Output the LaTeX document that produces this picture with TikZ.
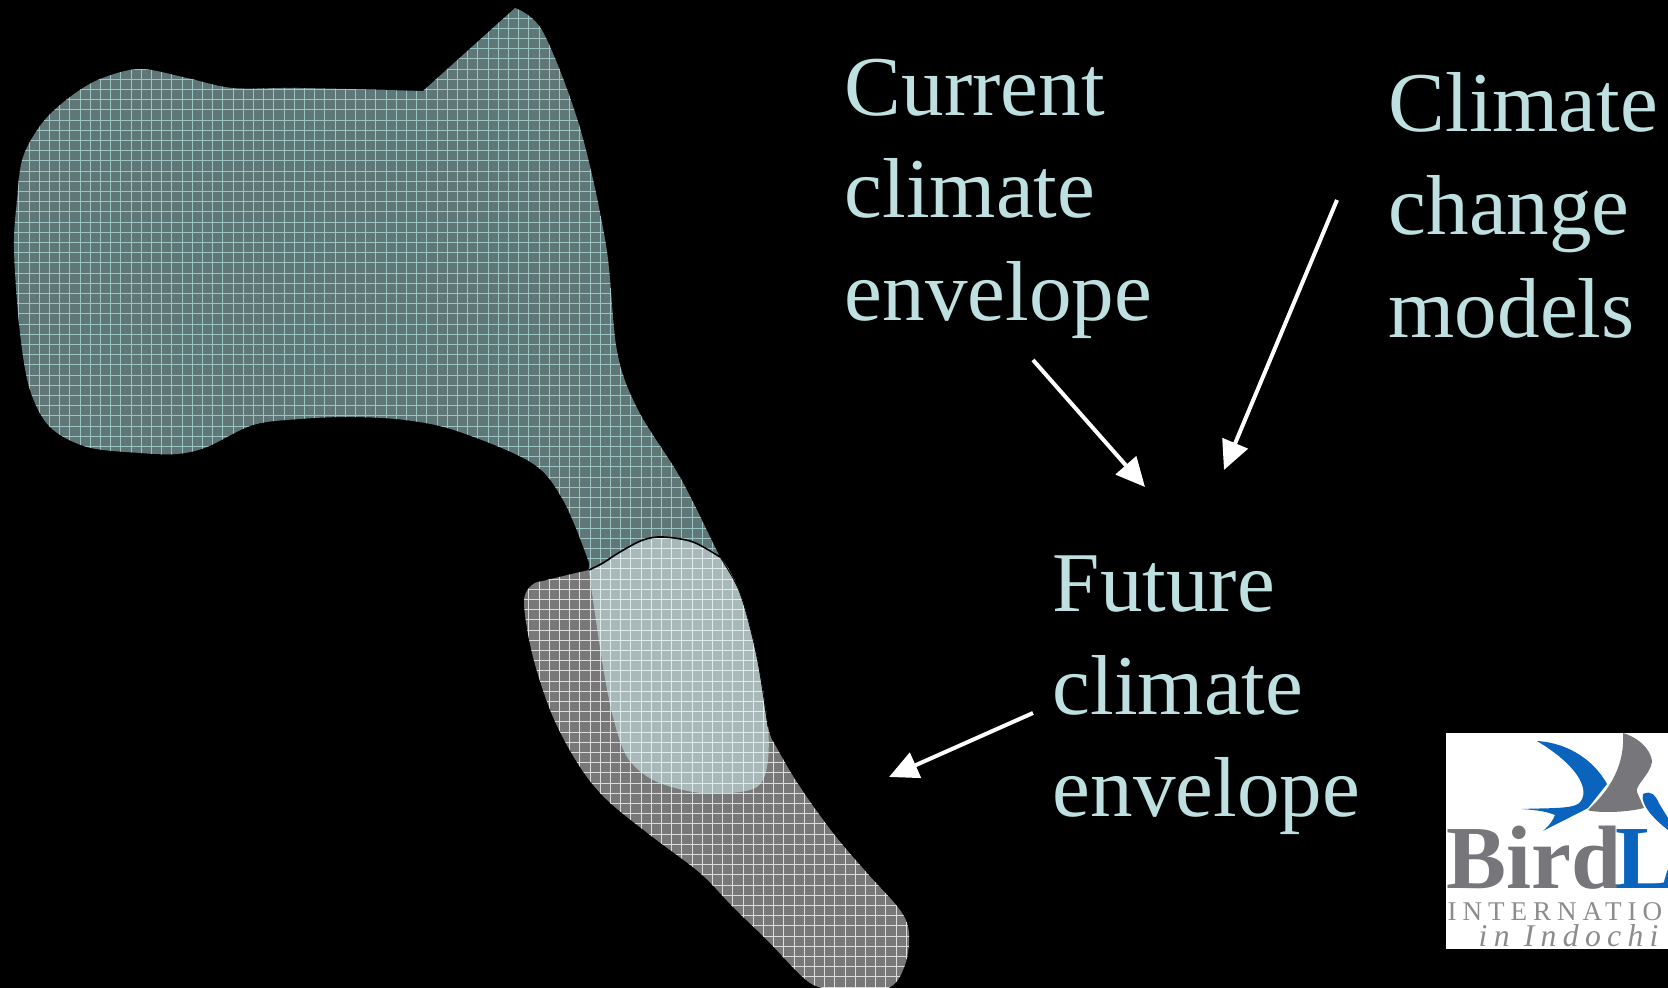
\documentclass[tikz,border=0pt]{standalone}
\usepackage{fontspec}
\setmainfont{Liberation Serif}
\newfontfamily\logowide[LetterSpace=22]{Liberation Serif}
\newfontfamily\logoslant[LetterSpace=20,ItalicFont={Liberation Serif Italic}]{Liberation Serif}
\usetikzlibrary{arrows.meta}
\definecolor{slidetext}{HTML}{BEE0E0}
\definecolor{tealfill}{HTML}{5F7777}
\definecolor{tealline}{HTML}{9CC4C4}
\definecolor{greyfill}{HTML}{787878}
\definecolor{greyline}{HTML}{DCDCDC}
\definecolor{bothfill}{HTML}{A9B8B8}
\definecolor{bothline}{HTML}{DFECEC}
\definecolor{logoblue}{HTML}{0A64BE}
\definecolor{logogrey}{HTML}{77777B}
\def\currentshape{plot[smooth,tension=0.55] coordinates {(515,8) (543,32) (580,128) (606,245) (617,351) (638,410) (681,479) (720,557) (740,593) (757,657) (768,727) (767,767) (757,787) (730,793) (693,792) (653,780) (627,757) (613,717) (603,667) (593,600) (589,570) (587,557) (563,500) (532,463) (457,431) (405,420) (351,417) (300,419) (253,425) (207,447) (177,454) (140,453) (87,447) (50,427) (30,390) (20,333) (14,250) (17,200) (23,157) (43,122) (70,97) (100,79) (140,69) (187,78) (233,88) (300,88) (423,91)} -- cycle}
\def\futureshape{plot[smooth,tension=0.55] coordinates {(589,570) (547,580) (532,585) (524,603) (533,657) (553,717) (580,767) (607,800) (650,835) (700,873) (733,907) (767,940) (810,983) (840,988) (888,988) (905,965) (909,933) (900,910) (867,873) (833,833) (800,787) (778,750) (768,727) (757,657) (740,593) (720,557) (693,542) (663,537) (643,540) (620,552) (603,563) (589,570)} -- cycle}
\newcommand{\hatchgrid}[1]{%
  \foreach \k in {0,...,163} \draw[#1,line width=0.01cm] ({8.7+10.2*\k},0) -- ({8.7+10.2*\k},988);
  \foreach \k in {0,...,96} \draw[#1,line width=0.01cm] (0,{7.9+10.2*\k}) -- (1668,{7.9+10.2*\k});}
\begin{document}
\begin{tikzpicture}[
    x=0.01cm, y=-0.01cm,
    slidelabel/.style={anchor=north west, inner sep=0pt, align=left, text=slidetext, font=\fontsize{24.2}{29.2}\selectfont},
    whitearrow/.style={-{Triangle[length=0.29cm,width=0.27cm]}, white, line width=0.04cm},
]
\useasboundingbox (0,0) rectangle (1668,988);
\fill[black] (0,0) rectangle (1668,988);

\fill[tealfill] \currentshape;
\begin{scope}
  \clip \currentshape;
  \hatchgrid{tealline}
\end{scope}
\fill[greyfill] \futureshape;
\begin{scope}
  \clip \futureshape;
  \hatchgrid{greyline}
\end{scope}
\begin{scope}
  \clip \currentshape;
  \clip \futureshape;
  \fill[bothfill] (0,0) rectangle (1668,988);
  \hatchgrid{bothline}
\end{scope}
\draw[black,line width=0.016cm] plot[smooth,tension=0.55] coordinates {(589,570) (603,563) (620,552) (643,540) (663,537) (693,542) (720,557)};
\draw[black,line width=0.008cm] plot[smooth,tension=0.55] coordinates {(720,557) (740,593) (757,657) (768,727)};

\node[slidelabel] (current) at (844,58) {Current\\climate\\envelope};
\node[slidelabel] (models) at (1388,72) {Climate\\change\\models};
\node[slidelabel] (future) at (1052,555) {Future\\climate\\envelope};

\coordinate (currentend) at (1033,360);
\coordinate (modelsend) at (1337,200);
\coordinate (futurestart) at (1033,713);
\coordinate (joinleft) at (1145,487);
\coordinate (joinright) at (1224,470);
\coordinate (futuretip) at (889,777);
\draw[whitearrow] (currentend) -- (joinleft);
\draw[whitearrow] (modelsend) -- (joinright);
\draw[whitearrow] (futurestart) -- (futuretip);

\fill[white] (1446,733) rectangle (1668,949);
\begin{scope}
  \clip (1446,733) rectangle (1668,949);
  \fill[logoblue] (1537,741) .. controls (1570,743) and (1595,762) .. (1607,784) -- (1588,808) .. controls (1575,815) and (1560,822) .. (1543,831) .. controls (1550,825) and (1553,820) .. (1555,815) .. controls (1545,811) and (1535,810) .. (1522,809) .. controls (1545,808) and (1570,809) .. (1578,804) .. controls (1590,795) and (1585,770) .. (1537,741) -- cycle;
  \fill[logogrey] (1623,733) .. controls (1645,740) and (1652,755) .. (1652,762) .. controls (1650,775) and (1635,785) .. (1637,792) -- (1644,808) .. controls (1620,814) and (1590,812) .. (1588,810) .. controls (1610,790) and (1625,765) .. (1623,733) -- cycle;
  \fill[logoblue] (1643,794) .. controls (1652,790) and (1655,795) .. (1660,805) -- (1668,818) -- (1668,830) .. controls (1655,820) and (1640,805) .. (1643,794) -- cycle;
  \node[anchor=base west, inner sep=0pt, font=\fontsize{25.6}{28}\selectfont\bfseries] (logoname) at (1446,889) {\textcolor{logogrey}{Bird}\kern-0.06cm\textcolor{logoblue}{L}};
  \node[anchor=base west, inner sep=0pt, text=black!45, font=\fontsize{7.7}{9}\logowide] (logowide) at (1447,921) {INTERNATIO};
  \node[anchor=base west, inner sep=0pt, text=black!45, font=\fontsize{9}{10}\logoslant\itshape] (logoplace) at (1478,947) {in Indochi};
\end{scope}
\end{tikzpicture}
\end{document}
